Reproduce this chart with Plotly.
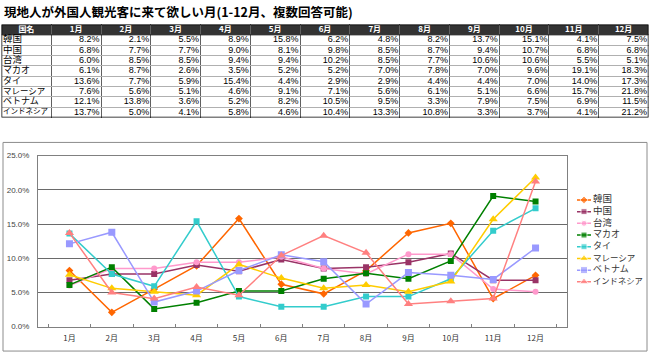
import plotly.graph_objects as go

W, H = 650, 358

title_text = "現地人が外国人観光客に来て欲しい月(1-12月、複数回答可能)"
months = ["1月", "2月", "3月", "4月", "5月", "6月", "7月", "8月", "9月", "10月", "11月", "12月"]
countries = ["韓国", "中国", "台湾", "マカオ", "タイ", "マレーシア", "ベトナム", "インドネシア"]
header_first = "国名"

korea = [8.2, 2.1, 5.5, 8.9, 15.8, 6.2, 4.8, 8.2, 13.7, 15.1, 4.1, 7.5]
china = [6.8, 7.7, 7.7, 9.0, 8.1, 9.8, 8.5, 8.7, 9.4, 10.7, 6.8, 6.8]
taiwan = [6.0, 8.5, 8.5, 9.4, 9.4, 10.2, 8.5, 7.7, 10.6, 10.6, 5.5, 5.1]
macau = [6.1, 8.7, 2.6, 3.5, 5.2, 5.2, 7.0, 7.8, 7.0, 9.6, 19.1, 18.3]
thailand = [13.6, 7.7, 5.9, 15.4, 4.4, 2.9, 2.9, 4.4, 4.4, 7.0, 14.0, 17.3]
malaysia = [7.6, 5.6, 5.1, 4.6, 9.1, 7.1, 5.6, 6.1, 5.1, 6.6, 15.7, 21.8]
vietnam = [12.1, 13.8, 3.6, 5.2, 8.2, 10.5, 9.5, 3.3, 7.9, 7.5, 6.9, 11.5]
indonesia = [13.7, 5.0, 4.1, 5.8, 4.6, 10.4, 13.3, 10.8, 3.3, 3.7, 4.1, 21.2]

y_ticks = [0, 5, 10, 15, 20, 25]

series = [korea, china, taiwan, macau, thailand, malaysia, vietnam, indonesia]
colors = ["#FF6600", "#993366", "#FF99CC", "#008000", "#33CCCC", "#FFCC00", "#9999FF", "#FF8080"]
symbols = ["diamond", "square", "circle", "square", "square", "triangle-up", "square", "triangle-up"]
sizes = [6, 6, 6, 6, 6, 8, 7, 8]
name_sizes = [9.5, 9.5, 9.5, 9, 9, 8.5, 9, 7.5]   # font size of each country name in the table
legend_sizes = [9.5, 9.5, 9.5, 9, 9, 8.5, 9, 8.3]

JP = "Noto Sans CJK JP"
NUM = "Liberation Sans, Noto Sans CJK JP"


def px(x):
    return x / W


def py(y):
    return 1 - y / H


fig = go.Figure()

n_cols = len(months) + 1
n_rows = len(countries) + 1

# ---- Table drawn on its own axes (columns = x units, rows = y units) ----
fig.add_trace(go.Scatter(
    x=[i + 0.5 for i in range(n_cols)], y=[0.5] * n_cols,
    text=[header_first] + months, mode="text", textposition="middle center",
    textfont=dict(family=JP, size=8, color="white", weight="bold"),
    xaxis="x3", yaxis="y3", showlegend=False, hoverinfo="skip", cliponaxis=False,
))
fig.add_trace(go.Scatter(
    x=[0.03] * len(countries), y=[k + 1.5 for k in range(len(countries))],
    text=countries, mode="text", textposition="middle right",
    textfont=dict(family=NUM, size=name_sizes, color="black"),
    xaxis="x3", yaxis="y3", showlegend=False, hoverinfo="skip", cliponaxis=False,
))
cx, cy, ct = [], [], []
for k, s in enumerate(series):
    for m, v in enumerate(s):
        cx.append(m + 1 + 0.97)
        cy.append(k + 1.5)
        ct.append(f"{v:.1f}%")
fig.add_trace(go.Scatter(
    x=cx, y=cy, text=ct, mode="text", textposition="middle left",
    textfont=dict(family=NUM, size=9, color="black"),
    xaxis="x3", yaxis="y3", showlegend=False, hoverinfo="skip", cliponaxis=False,
))

# ---- Line chart ----
for name, vals, c, sym, sz in zip(countries, series, colors, symbols, sizes):
    fig.add_trace(go.Scatter(
        x=months, y=vals, name=name, mode="lines+markers",
        line=dict(color=c, width=1.5),
        marker=dict(color=c, symbol=sym, size=sz),
        xaxis="x", yaxis="y", showlegend=False,
    ))

# ---- Custom legend ----
fig.add_trace(go.Scatter(
    x=[16] * len(countries), y=list(range(len(countries))), text=countries,
    mode="text", textposition="middle right",
    textfont=dict(family=NUM, size=legend_sizes, color="#333333"),
    xaxis="x2", yaxis="y2", showlegend=False, hoverinfo="skip", cliponaxis=False,
))
for i, (name, c, sym, sz) in enumerate(zip(countries, colors, symbols, sizes)):
    fig.add_trace(go.Scatter(
        x=[0, 7, 14], y=[i, i, i], mode="lines+markers",
        line=dict(color=c, width=1.5),
        marker=dict(color=c, symbol=sym, size=[0, sz, 0]),
        xaxis="x2", yaxis="y2", showlegend=False, hoverinfo="skip",
    ))

fig.update_layout(
    width=W, height=H,
    margin=dict(l=0, r=0, t=0, b=0),
    paper_bgcolor="white", plot_bgcolor="rgba(0,0,0,0)",
    font=dict(family=JP),
    xaxis=dict(domain=[px(38), px(567)], anchor="y", type="category",
               tickson="boundaries", ticks="inside", ticklen=3, tickcolor="#808080",
               showline=True, linecolor="#808080", linewidth=1, mirror=True,
               showgrid=False, tickfont=dict(family=JP, size=8, color="#333333"),
               ticklabelstandoff=4, fixedrange=True),
    yaxis=dict(domain=[py(331), py(155.5)], anchor="x", range=[0, 25],
               tickvals=y_ticks, ticktext=[f"{v:.1f}%" for v in y_ticks],
               showgrid=True, gridcolor="#6a6a6a", gridwidth=1,
               showline=True, linecolor="#808080", linewidth=1, mirror=True,
               zeroline=False, ticks="",
               tickfont=dict(family=NUM, size=8, color="#444444"),
               ticklabelstandoff=6, fixedrange=True),
    xaxis2=dict(domain=[px(577), px(647)], anchor="y2", range=[0, 70],
                visible=False, fixedrange=True),
    yaxis2=dict(domain=[py(291), py(195)], anchor="x2", range=[7.5, -0.5],
                visible=False, fixedrange=True),
    xaxis3=dict(domain=[px(1.5), px(648.5)], anchor="y3", range=[0, n_cols],
                tickvals=list(range(n_cols + 1)), showgrid=True, gridcolor="#606060",
                gridwidth=1, showticklabels=False, ticks="", zeroline=False,
                showline=False, fixedrange=True),
    yaxis3=dict(domain=[py(116.5), py(21)], anchor="x3", range=[n_rows, 0],
                tickvals=list(range(n_rows + 1)), showgrid=True, gridcolor="#b0b0b0",
                gridwidth=1, showticklabels=False, ticks="", zeroline=False,
                showline=False, fixedrange=True),
)

# Header background and table border
fig.add_shape(type="rect", xref="x3", yref="y3", x0=0, x1=n_cols, y0=0, y1=1,
              fillcolor="#333333", line=dict(width=0), layer="below")
fig.add_shape(type="line", xref="x3", yref="y3", x0=0, x1=n_cols, y0=1, y1=1,
              line=dict(color="black", width=1))
fig.add_shape(type="rect", xref="x3", yref="y3", x0=0, x1=n_cols, y0=0, y1=n_rows,
              line=dict(color="black", width=1.5))

# Title
fig.add_annotation(x=px(1.5), y=py(8), xref="paper", yref="paper", text=title_text,
                   showarrow=False, xanchor="left", yanchor="middle",
                   font=dict(family=JP, size=12.5, color="black", weight="bold"))

# Chart frame
fig.add_shape(type="rect", xref="paper", yref="paper",
              x0=px(3), x1=px(647), y0=py(356), y1=py(142),
              line=dict(color="#8c8c8c", width=1))

fig.write_html("out.html", config={"displayModeBar": False},
               post_script="document.body.style.margin='0';document.body.style.overflow='hidden';")
